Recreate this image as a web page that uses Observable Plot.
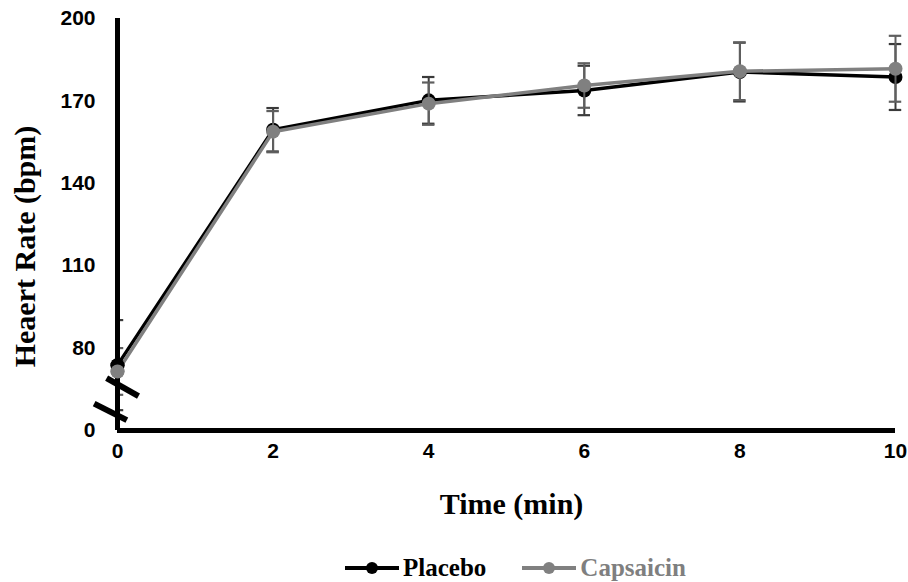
<!DOCTYPE html>
<html><head><meta charset="utf-8">
<script src="https://cdn.jsdelivr.net/npm/d3@7"></script>
<script src="https://cdn.jsdelivr.net/npm/@observablehq/plot@0.6"></script>
<style>
body{margin:0;background:#fff;width:908px;height:582px;overflow:hidden;position:relative}
#legend{position:absolute;left:345px;top:548px;height:40px;display:flex;align-items:center;font-family:"Liberation Serif",serif;font-weight:bold;font-size:25px}
.item{display:flex;align-items:center;margin-right:36px}
.item svg{margin-right:4px}
</style></head><body><div id="chart"></div><div id="legend"></div>
<script>
const times = [0, 2, 4, 6, 8, 10];
const placebo = [73.8, 159.5, 170.2, 173.8, 180.5, 178.7];
const placeboErr = [16.4, 7.9, 8.5, 9.0, 10.7, 12.0];
const capsaicin = [71.5, 158.8, 169.0, 175.6, 180.8, 181.7];
const capsaicinErr = [8.5, 7.5, 7.7, 8.1, 10.5, 12.0];
const seriesNames = ["Placebo", "Capsaicin"];
const seriesColors = ["#000000", "#808080"];
const errColors = ["#3a3a3a", "#5f5f5f"];
const xTicks = [0, 2, 4, 6, 8, 10];
// broken axis: the "0" label sits at the position of 50
const yTickValues = [50, 80, 110, 140, 170, 200];
const yTickLabels = ["0", "80", "110", "140", "170", "200"];
// axis-break slashes (in data units)
const breakMarks = [
  {x1: -0.14, y1: 69.1, x2: 0.27, y2: 62.5},
  {x1: -0.30, y1: 59.8, x2: 0.12, y2: 53.8}
];
const capHalf = 0.08;

const rows = (vals, errs, name) => times.map((t, i) => ({time: t, hr: vals[i], err: errs[i], series: name}));
const pRows = rows(placebo, placeboErr, seriesNames[0]);
const cRows = rows(capsaicin, capsaicinErr, seriesNames[1]);

function seriesMarks(data, k) {
  const cx1 = d => Math.max(0, d.time - capHalf);
  const cx2 = d => d.time + capHalf;
  return [
    Plot.line(data, {x: "time", y: "hr", stroke: seriesColors[k], strokeWidth: 3.5}),
    Plot.ruleX(data, {x: "time", y1: d => d.hr - d.err, y2: d => d.hr + d.err, stroke: errColors[k], strokeWidth: 2}),
    Plot.ruleY(data, {y: d => d.hr + d.err, x1: cx1, x2: cx2, stroke: errColors[k], strokeWidth: 2.2}),
    Plot.ruleY(data, {y: d => d.hr - d.err, x1: cx1, x2: cx2, stroke: errColors[k], strokeWidth: 2.2}),
    Plot.dot(data, {x: "time", y: "hr", r: 7, fill: seriesColors[k], stroke: "none"})
  ];
}

const chart = Plot.plot({
  width: 908, height: 540,
  marginLeft: 117, marginRight: 13, marginTop: 18, marginBottom: 110,
  x: {domain: [0, 10]},
  y: {domain: [50, 200]},
  style: {background: "white", overflow: "visible"},
  marks: [
    Plot.axisY({ticks: yTickValues, tickFormat: d => yTickLabels[yTickValues.indexOf(d)], tickSize: 0, tickPadding: 22, label: null,
      fontFamily: "Liberation Sans, Arial, sans-serif", fontWeight: "bold", fontSize: 21, fill: "#000"}),
    Plot.axisX({ticks: xTicks, tickSize: 0, tickPadding: 13, label: null,
      fontFamily: "Liberation Sans, Arial, sans-serif", fontWeight: "bold", fontSize: 21, fill: "#000"}),
    ...seriesMarks(pRows, 0),
    ...seriesMarks(cRows, 1),
    Plot.ruleX([0], {y1: 50, y2: 200, stroke: "#000", strokeWidth: 5}),
    Plot.ruleY([50], {x1: 0, x2: 10, stroke: "#000", strokeWidth: 5}),
    Plot.dot(pRows.slice(0, 1), {x: "time", y: "hr", r: 7, fill: seriesColors[0]}),
    Plot.dot(cRows.slice(0, 1), {x: "time", y: "hr", r: 7, fill: seriesColors[1]}),
    Plot.link(breakMarks, {x1: "x1", y1: "y1", x2: "x2", y2: "y2", stroke: "#000", strokeWidth: 6}),
    Plot.text(["Heaert Rate (bpm)"], {frameAnchor: "left", textAnchor: "middle", dx: -92, dy: 22, rotate: -90,
      fontFamily: "Liberation Serif, serif", fontWeight: "bold", fontSize: 30, fill: "#000"}),
    Plot.text(["Time (min)"], {frameAnchor: "bottom", dx: 5, dy: 83,
      fontFamily: "Liberation Serif, serif", fontWeight: "bold", fontSize: 30, fill: "#000"})
  ]
});
document.getElementById("chart").appendChild(chart);

const legend = document.getElementById("legend");
seriesNames.forEach((name, k) => {
  const item = document.createElement("div");
  item.className = "item";
  item.innerHTML = `<svg width="54" height="16"><line x1="0" y1="8" x2="54" y2="8" stroke="${seriesColors[k]}" stroke-width="4"/><circle cx="27" cy="8" r="6" fill="${seriesColors[k]}"/></svg><span style="color:${k === 0 ? '#000' : '#7f7f7f'}">${name}</span>`;
  legend.appendChild(item);
});
</script>
</body></html>
